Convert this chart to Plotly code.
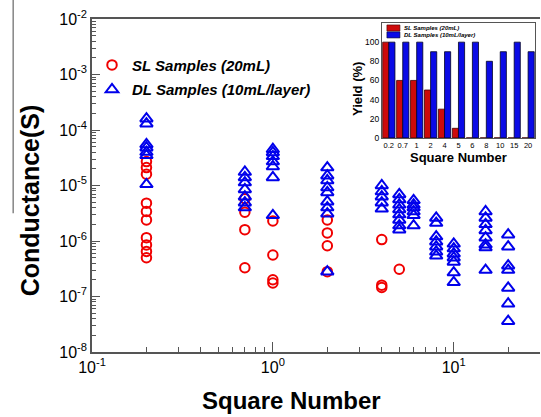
import plotly.graph_objects as go

# ---- main scatter data (conductance, S) ----
sl_x = [0.2]*10 + [0.7]*4 + [1]*4 + [2]*4 + [4]*3 + [5]*1
sl_y = [2.7e-5, 2.1e-5, 1.6e-5, 4.8e-6, 3.4e-6, 2.4e-6, 1.15e-6, 8.5e-7, 6.5e-7, 5.0e-7,
        5.8e-6, 3.3e-6, 1.6e-6, 3.3e-7,
        2.3e-6, 5.6e-7, 2.0e-7, 1.75e-7,
        2.4e-6, 1.4e-6, 8.2e-7, 2.8e-7,
        1.06e-6, 1.6e-7, 1.45e-7,
        3.1e-7]

dl_groups = {
    0.2: [1.6e-4, 1.3e-4, 5.5e-5, 4.8e-5, 4.0e-5, 3.5e-5, 1.05e-5],
    0.7: [1.75e-5, 1.4e-5, 1.13e-5, 8.5e-6, 6.3e-6, 4.9e-6, 4.0e-6],
    1:   [4.5e-5, 3.95e-5, 3.35e-5, 2.7e-5, 2.2e-5, 1.4e-5, 2.9e-6],
    2:   [2.1e-5, 1.5e-5, 1.23e-5, 9.2e-6, 7.5e-6, 5.1e-6, 4.0e-6, 3.1e-6, 2.8e-7],
    4:   [1.0e-5, 7.8e-6, 6.3e-6, 4.9e-6, 3.8e-6],
    5:   [6.9e-6, 5.6e-6, 4.5e-6, 3.7e-6, 3.0e-6, 2.4e-6, 1.9e-6, 1.6e-6],
    6:   [5.4e-6, 4.5e-6, 4.0e-6, 3.4e-6, 2.9e-6, 1.9e-6],
    8:   [2.6e-6, 2.1e-6, 1.2e-6, 9.7e-7, 7.9e-7, 6.4e-7, 5.4e-7],
    10:  [8.9e-7, 7.3e-7, 5.9e-7, 5.0e-7, 4.2e-7, 2.7e-7, 1.8e-7],
    15:  [3.4e-6, 2.6e-6, 2.0e-6, 1.55e-6, 1.15e-6, 8.6e-7, 7.6e-7, 3.0e-7],
    20:  [1.3e-6, 7.9e-7, 3.6e-7, 3.0e-7, 1.43e-7, 7.4e-8, 3.6e-8],
}
dl_x = [k for k, v in dl_groups.items() for _ in v]
dl_y = [y for v in dl_groups.values() for y in v]

# ---- inset yield data (%) ----
yield_cats = ["0.2", "0.7", "1", "2", "4", "5", "6", "8", "10", "15", "20"]
yield_sl = [100, 60, 60, 50, 30, 10, 0, 0, 0, 0, 0]
yield_dl = [100, 100, 100, 90, 90, 100, 100, 80, 90, 100, 90]

x_tickvals = [0.1, 1, 10]
x_ticktext = ["10<sup>-1</sup>", "10<sup>0</sup>", "10<sup>1</sup>"]
y_tickvals = [1e-8, 1e-7, 1e-6, 1e-5, 1e-4, 1e-3, 1e-2]
y_ticktext = ["10<sup>-8</sup>", "10<sup>-7</sup>", "10<sup>-6</sup>", "10<sup>-5</sup>",
              "10<sup>-4</sup>", "10<sup>-3</sup>", "10<sup>-2</sup>"]

FONT = "Liberation Sans, Arial, sans-serif"
RED = "rgb(240,0,0)"
BLUE = "rgb(0,0,235)"

minor_x = [m * 10**e for e in range(-1, 2) for m in range(2, 10)]
minor_y = [m * 10**e for e in range(-8, -2) for m in range(2, 10)]

fig = go.Figure()
fig.add_trace(go.Scatter(
    x=sl_x, y=sl_y, mode="markers", name="SL Samples (20mL)", legendgroup="a",
    marker=dict(symbol="circle-open", size=9.5, color=RED, line=dict(width=2, color=RED)),
))
fig.add_trace(go.Scatter(
    x=dl_x, y=dl_y, mode="markers", name="DL Samples (10mL/layer)", legendgroup="b",
    marker=dict(symbol="triangle-up-open", size=11, color=BLUE, line=dict(width=2, color=BLUE)),
))

fig.add_trace(go.Bar(x=yield_cats, y=yield_sl, xaxis="x2", yaxis="y2", showlegend=False,
                     marker=dict(color="rgb(205,10,10)", line=dict(color="#400", width=0.8))))
fig.add_trace(go.Bar(x=yield_cats, y=yield_dl, xaxis="x2", yaxis="y2", showlegend=False,
                     marker=dict(color="rgb(10,10,230)", line=dict(color="#002", width=0.8))))

axis_col = "#555"
fig.update_layout(
    width=541, height=417,
    margin=dict(l=92, r=1, t=19, b=65),
    paper_bgcolor="white", plot_bgcolor="white",
    font=dict(family=FONT, color="black"),
    barmode="group", bargap=0.12, bargroupgap=0,
    xaxis=dict(type="log", range=[-1, 1.477], tickmode="array", tickvals=x_tickvals,
               ticktext=x_ticktext, ticks="inside", ticklen=10, tickcolor=axis_col,
               showline=True, linecolor=axis_col, linewidth=1.5, mirror=True,
               showgrid=False, zeroline=False, tickfont=dict(size=16),
               minor=dict(tickmode="array", tickvals=minor_x, ticks="inside", ticklen=5,
                          tickcolor=axis_col, showgrid=False)),
    yaxis=dict(type="log", range=[-8, -2], tickmode="array", tickvals=y_tickvals,
               ticktext=y_ticktext, ticks="inside", ticklen=8, tickcolor=axis_col,
               showline=True, linecolor=axis_col, linewidth=1.5,
               showgrid=False, zeroline=False, tickfont=dict(size=16),
               minor=dict(tickmode="array", tickvals=minor_y, ticks="inside", ticklen=4,
                          tickcolor=axis_col, showgrid=False)),
    xaxis2=dict(domain=[0.647, 0.989], anchor="y2", type="category",
                showline=True, linecolor=axis_col, linewidth=1, mirror=True,
                ticks="", showgrid=False, tickfont=dict(size=7.5)),
    yaxis2=dict(domain=[0.643, 0.988], anchor="x2", range=[0, 120],
                tickvals=[0, 20, 40, 60, 80, 100], showline=True, linecolor=axis_col,
                linewidth=1, mirror=True, ticks="", showgrid=False, zeroline=False,
                tickfont=dict(size=8.5)),
    legend=dict(x=0.0, xanchor="left", y=0.911, yanchor="top",
                bgcolor="rgba(0,0,0,0)", tracegroupgap=2, traceorder="grouped",
                font=dict(family=FONT, size=15, weight="bold", style="italic", color="black")),
    showlegend=True,
)

# axis titles
fig.add_annotation(text="Conductance(S)", xref="paper", yref="paper", x=-0.138, y=0.456,
                   xanchor="center", yanchor="middle", textangle=-90, showarrow=False,
                   font=dict(family=FONT, size=25, weight="bold", color="black"))
fig.add_annotation(text="Square Number", xref="paper", yref="paper", x=0.446, y=-0.147,
                   xanchor="center", yanchor="middle", showarrow=False,
                   font=dict(family=FONT, size=24, weight="bold", color="black"))
# inset titles
fig.add_annotation(text="Yield (%)", xref="paper", yref="paper", x=0.594, y=0.79,
                   xanchor="center", yanchor="middle", textangle=-90, showarrow=False,
                   font=dict(family=FONT, size=13, weight="bold", color="black"))
fig.add_annotation(text="Square Number", xref="paper", yref="paper", x=0.819, y=0.583,
                   xanchor="center", yanchor="middle", showarrow=False,
                   font=dict(family=FONT, size=13, weight="bold", color="black"))

# inset legend
fig.add_shape(type="rect", xref="x2 domain", yref="y2 domain", x0=0.033, x1=0.118,
              y0=0.93, y1=0.983, fillcolor="rgb(205,10,10)", line=dict(color="#400", width=0.6))
fig.add_shape(type="rect", xref="x2 domain", yref="y2 domain", x0=0.033, x1=0.118,
              y0=0.87, y1=0.923, fillcolor="rgb(10,10,230)", line=dict(color="#002", width=0.6))
fig.add_annotation(text="SL Samples (20mL)", xref="x2 domain", yref="y2 domain",
                   x=0.131, y=0.957, xanchor="left", yanchor="middle", showarrow=False,
                   font=dict(family=FONT, size=6, weight="bold", style="italic", color="black"))
fig.add_annotation(text="DL Samples (10mL/layer)", xref="x2 domain", yref="y2 domain",
                   x=0.131, y=0.896, xanchor="left", yanchor="middle", showarrow=False,
                   font=dict(family=FONT, size=6, weight="bold", style="italic", color="black"))

# stray vertical line at the far left of the source image
fig.add_shape(type="line", xref="paper", yref="paper", x0=-0.176, x1=-0.176,
              y0=0.417, y1=1.057, line=dict(color="#666", width=1.2))

fig.write_html("out.html")
